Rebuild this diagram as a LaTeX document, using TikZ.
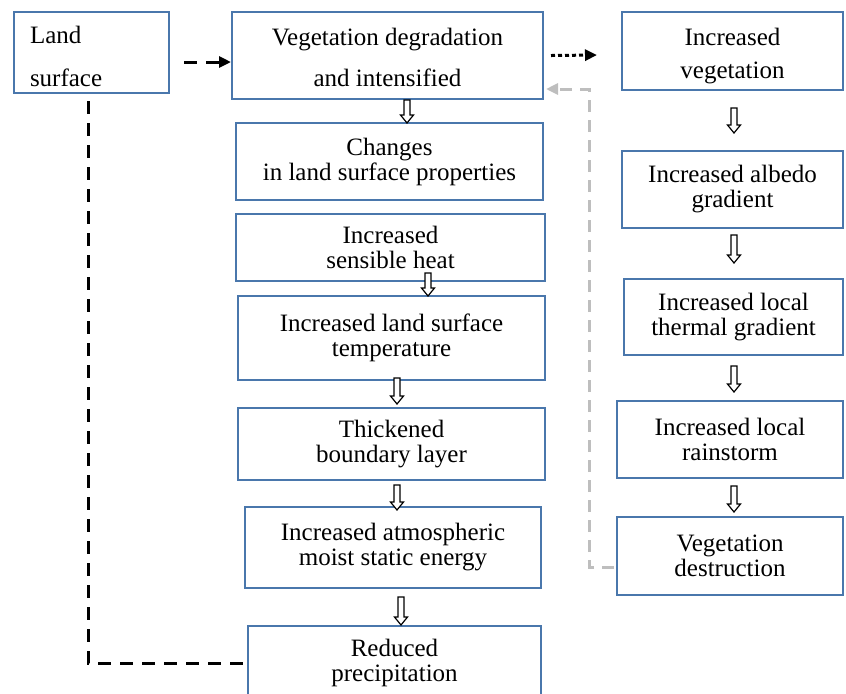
\documentclass[tikz,border=0pt]{standalone}
\usepackage{fontspec}
\setmainfont{Liberation Serif}
\usetikzlibrary{arrows.meta, positioning, calc}
\definecolor{boxBlue}{HTML}{4A77AC}
\definecolor{backGray}{HTML}{BEBEBE}

% hollow down arrow glyph: x, top y, bottom y
\newcommand{\downglyph}[3]{%
  \draw[glyph] (#1-3,#2) -- (#1-3,#3-8) -- (#1-6.5,#3-8) -- (#1,#3)
    -- (#1+6.5,#3-8) -- (#1+3,#3-8) -- (#1+3,#2) -- cycle;}

\begin{document}
\begin{tikzpicture}[
    x=0.5pt, y=-0.5pt,
    box/.style={draw=boxBlue, line width=1pt, align=center, inner sep=0pt,
      font=\fontsize{12.5}{12.5}\selectfont},
    glyph/.style={draw=black, line width=0.6pt, fill=white},
    dashline/.style={line width=1.5pt, dash pattern=on 6.5pt off 4.5pt},
    dotline/.style={line width=1.5pt, dash pattern=on 2pt off 1.5pt},
    grayline/.style={draw=backGray, line width=1.5pt, dash pattern=on 6pt off 4pt},
    tip/.style={-{Triangle[length=6pt, width=5.5pt]}},
]
    \useasboundingbox (0,0) rectangle (846,693);

    % left column
    \node[box, minimum height=40.5pt, text width=61.5pt, inner xsep=8pt, align=left]
      (land) at (91.5,52.5) {\rule{0pt}{12.5pt}Land\\[9pt]surface};
    \node[box, minimum width=155.5pt, minimum height=43.5pt]
      (degrade) at (387.5,55.5) {\rule{0pt}{10.5pt}Vegetation degradation\\[8pt]and intensified};
    \node[box, minimum width=153.5pt, minimum height=38.5pt]
      (changes) at (389.5,161.5) {Changes\\in land surface properties};
    \node[box, minimum width=154.5pt, minimum height=33.5pt]
      (heat) at (390.5,247.5) {Increased\\sensible heat};
    \node[box, minimum width=153.5pt, minimum height=42pt]
      (lst) at (391.5,338) {Increased land surface\\temperature};
    \node[box, minimum width=153.5pt, minimum height=36pt]
      (blayer) at (391.5,444) {Thickened\\boundary layer};
    \node[box, minimum width=148pt, minimum height=40.5pt]
      (mse) at (393,547.5) {Increased atmospheric\\moist static energy};
    \node[box, minimum width=146.5pt, minimum height=37pt]
      (precip) at (394.5,663) {Reduced\\precipitation};

    % right column
    \node[box, minimum width=110.5pt, minimum height=39pt]
      (incveg) at (732.5,51) {\rule{0pt}{13.5pt}Increased\\[4pt]vegetation};
    \node[box, minimum width=110.5pt, minimum height=38.5pt]
      (albedo) at (732.5,189.5) {Increased albedo\\gradient};
    \node[box, minimum width=109.5pt, minimum height=38pt]
      (thermal) at (733.5,317) {Increased local\\thermal gradient};
    \node[box, minimum width=113pt, minimum height=38.5pt]
      (rainstorm) at (730,439.5) {Increased local\\rainstorm};
    \node[box, minimum width=113pt, minimum height=39pt]
      (destroy) at (730,556) {Vegetation\\destruction};

    % hollow arrows
    \downglyph{407}{100}{123}
    \downglyph{428}{273}{296}
    \downglyph{397}{378}{404}
    \downglyph{397}{485}{510}
    \downglyph{401}{597}{625}
    \downglyph{734}{108}{133}
    \downglyph{734}{235}{263}
    \downglyph{734}{366}{392}
    \downglyph{734}{486}{512}

    % feedback connectors
    \draw[dashline, tip] ([xshift=7pt,yshift=-4.75pt]land.east) -- ([yshift=-3.25pt]degrade.west);
    \draw[dotline, tip] ([xshift=3.5pt]degrade.east) -- ([xshift=-12pt,yshift=-2pt]incveg.west);
    \coordinate (turn) at (589,89);
    \draw[grayline, -{Triangle[length=6pt, width=5.5pt]}, backGray]
      ([xshift=-1pt,yshift=-5.5pt]destroy.west) -| (turn) -- ([xshift=1pt,yshift=-16.75pt]degrade.east);
    \draw[dashline] ([xshift=-1.75pt,yshift=-3.5pt]land.south) |- (precip.west);
\end{tikzpicture}
\end{document}
